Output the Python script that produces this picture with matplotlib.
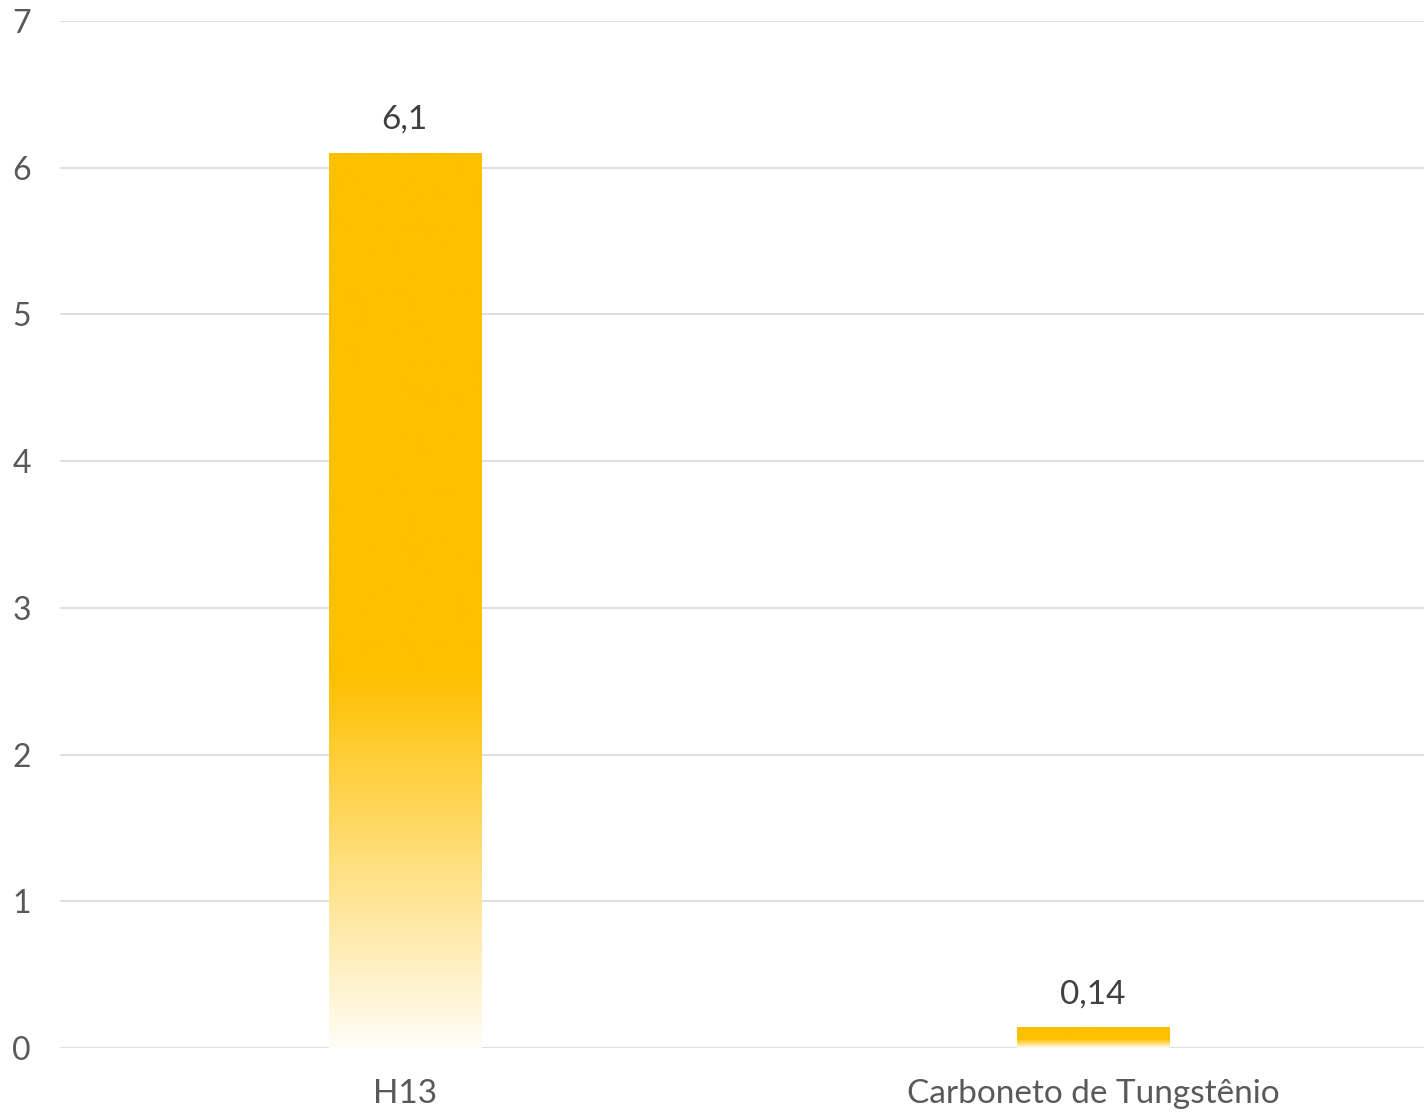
import numpy as np
import matplotlib
matplotlib.use("Agg")
from matplotlib import pyplot as plt

# data
categories = ["H13", "Carboneto de Tungstênio"]
values = [6.1, 0.14]
value_labels = ["6,1", "0,14"]
y_ticks = [0, 1, 2, 3, 4, 5, 6, 7]

plt.rcParams['font.family'] = ['Lato', 'DejaVu Sans']

fig = plt.figure(figsize=(14.24, 11.15), dpi=100)
ax = fig.add_axes([60/1424, 67/1115, 1 - 60/1424, (1048-21)/1115])

x = np.arange(len(categories))
bars = ax.bar(x, values, width=0.221, color='none', edgecolor='none', zorder=3)

# vertical gradient: light at bottom, solid gold from ~43% upward
gold = np.array([255, 192, 0]) / 255.0
white = np.array([1.0, 1.0, 1.0])
f = np.linspace(0, 1, 256)
a = np.clip(0.03 + f / 0.43, 0, 1)
grad = white[None, :] * (1 - a[:, None]) + gold[None, :] * a[:, None]
grad = grad[:, None, :]

for b in bars:
    x0, y0 = b.get_x(), b.get_y()
    w, h = b.get_width(), b.get_height()
    im = ax.imshow(grad, extent=[x0, x0 + w, y0, y0 + h], origin='lower',
                   aspect='auto', zorder=3, interpolation='bilinear')
    im.set_clip_path(b)

for xi, v, lab in zip(x, values, value_labels):
    ax.annotate(lab, (xi, v), xytext=(0, 13), textcoords='offset points',
                ha='center', va='bottom', fontsize=24, color='#404040')

ax.set_xlim(-0.501, 1.481)
ax.set_ylim(0, 7)
ax.set_yticks(y_ticks)
ax.set_yticklabels([str(t) for t in y_ticks])
ax.set_xticks(x)
ax.set_xticklabels(categories)

for t in y_ticks:
    ax.axhline(t, color='#D9D9D9', lw=1.2, zorder=1)

for s in ax.spines.values():
    s.set_visible(False)
ax.tick_params(axis='both', length=0, colors='#595959')
ax.tick_params(axis='y', pad=21, labelsize=23)
ax.tick_params(axis='x', pad=22, labelsize=24)

plt.savefig("out.png", dpi=100)
